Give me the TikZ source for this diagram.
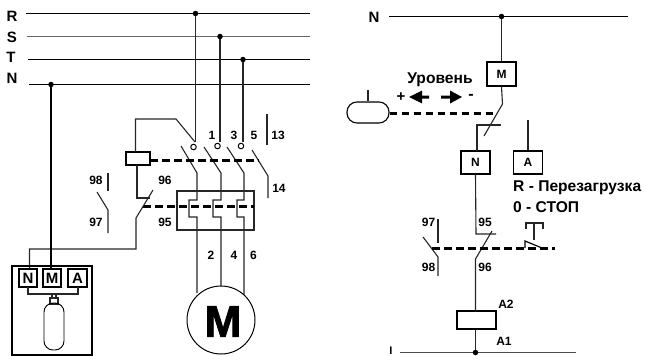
\documentclass[tikz,border=0pt]{standalone}
\usepackage{fontspec}
\setmainfont{Liberation Sans}
\newfontfamily\heavyfont[FakeBold=2]{Liberation Sans Bold}
\usetikzlibrary{arrows.meta}
\tikzset{
  wire/.style={line width=1.1pt,black!85},
  bus/.style={line width=1.1pt,black},
  mech/.style={line width=2.1pt,black,dash pattern=on 7.5pt off 4.5pt},
  box/.style={draw=black,line width=1.2pt,fill=white,inner sep=0pt},
  term/.style={box,font=\fontsize{15}{15}\selectfont\bfseries},
  rterm/.style={box,font=\fontsize{12}{12}\selectfont\bfseries},
  lab/.style={inner sep=0pt,font=\fontsize{12}{12}\selectfont\bfseries},
  biglab/.style={inner sep=0pt,font=\fontsize{15}{15}\selectfont\bfseries},
  textlab/.style={inner sep=0pt,font=\fontsize{15.6}{15.6}\selectfont\bfseries},
  junction/.style={circle,fill=black,inner sep=0pt,minimum size=5.5pt},
  open/.style={circle,draw=black,line width=1pt,fill=white,inner sep=0pt,minimum size=5.5pt}
}
\begin{document}
\begin{tikzpicture}[x=1pt,y=-1pt]
\useasboundingbox (0,0) rectangle (646,356);
% bus labels and end points
\node[biglab] (lR) at (12,16.5) {R};
\node[biglab] (lS) at (12,37) {S};
\node[biglab] (lT) at (11,57) {T};
\node[biglab] (lN) at (12,78) {N};
\coordinate (Ra) at (26,13.5); \coordinate (Rb) at (310,13.5);
\coordinate (Sa) at (27,36.5); \coordinate (Sb) at (310,36.5);
\coordinate (Ta) at (28,59.5); \coordinate (Tb) at (310,59.5);
\coordinate (Na) at (29,84.5); \coordinate (Nb) at (310,84.5);
\draw[bus] (Ra)--(Rb); \draw[bus,black!60] (Sa)--(Sb); \draw[bus] (Ta)--(Tb); \draw[bus] (Na)--(Nb);
\node[junction] (dR) at (195.5,13.5) {};
\node[junction] (dS) at (220,36.5) {};
\node[junction] (dT) at (243,59.5) {};
\node[junction] (dN) at (51,84.5) {};
% terminal circles
\draw[wire] (dR)--(195.5,142);
\draw[wire] (dS)--(220,142);
\draw[wire] (dT)--(243,142);
\node[open] (c1) at (193.5,147) {};
\node[open] (c2) at (217.5,146) {};
\node[open] (c3) at (241,146) {};
% coil
\node[box,minimum width=24pt,minimum height=13pt] (coil) at (138,158.5) {};
\coordinate (mA) at (150,160.5); \coordinate (mB) at (259,160.5);
\coordinate (mC) at (143,206.5); \coordinate (mD) at (254,206.5);
\draw[wire] (135.5,152)--(135.5,119)--(176,119)--(195,142);
% contacts
\draw[wire] (181,146)--(197,173)--(197,200)--(189,200)--(189,217)--(197,217)--(197,293);
\draw[wire] (204,147)--(221,173)--(221,200)--(213,200)--(213,217)--(221,217)--(221,286);
\draw[wire] (227,147)--(244,173)--(244,200)--(237,200)--(237,217)--(244,217)--(244,295);
\draw[wire] (252,150)--(268,176)--(268,198);
\draw[wire] (267,114)--(267,145);
% thermal box
\draw[wire] (177,191) rectangle (254,230);
% dashed links
\draw[mech] (mA)--(mB);
\draw[mech] (mC)--(mD);
% overload contact and wiring
\draw[wire] (137,165)--(137,198)--(150,198);
\draw[wire] (153,190)--(136,218)--(136,249)--(29.5,249)--(29.5,269);
\draw[wire] (108,173)--(108,191);
\draw[wire] (97,192)--(108,210)--(108,233);
% labels
\node[lab] (t1) at (212,135) {1};
\node[lab] (t3) at (234,135) {3};
\node[lab] (t5) at (254,135) {5};
\node[lab] (t13) at (278,135) {13};
\node[lab] (t14) at (279,188) {14};
\node[lab] (t98) at (96,180) {98};
\node[lab] (t97) at (96,222) {97};
\node[lab] (t96) at (165,180) {96};
\node[lab] (t95) at (165,222) {95};
\node[lab] (t2) at (211,255) {2};
\node[lab] (t4) at (234,255) {4};
\node[lab] (t6) at (253.5,255) {6};
% motor
\node[draw=black,line width=1pt,circle,fill=white,minimum size=68pt,inner sep=0pt] (motor) at (221,320) {};
\node[inner sep=0pt,font=\fontsize{44}{44}\heavyfont] (motorM) at (223,321.5) {M};
% level unit
\draw[line width=1.2pt] (12,266) rectangle (92,355);
\draw[line width=1.1pt] (dN)--(51,269);
\node[term,minimum width=18pt,minimum height=18pt] (bN) at (28,278) {N};
\node[term,minimum width=18pt,minimum height=18pt] (bM) at (52,278) {M};
\node[term,minimum width=19pt,minimum height=18pt] (bA) at (77.5,278) {A};
\draw[wire] (28,287)--(28,294)--(78,294)--(78,287);
\draw[wire] (52,294)--(52,298) (56,294)--(56,298);
\draw[wire] (50,298) rectangle (58,304);
\draw[line width=0.9pt,rounded corners=9pt] (44,350) -- (44,303) -- (64,303) -- (64,350) -- cycle;
% right diagram
\node[biglab] (rN) at (374,17) {N};
\coordinate (rNa) at (389,16.5); \coordinate (rNb) at (628,16.5);
\draw[bus] (rNa)--(rNb);
\node[junction] (rd) at (501.5,16.5) {};
\node[rterm,minimum width=29pt,minimum height=24pt] (rM) at (501.5,74) {M};
\node[rterm,minimum width=29pt,minimum height=23pt] (rNb2) at (475.5,162.5) {N};
\node[rterm,minimum width=29pt,minimum height=23pt] (rA) at (528,162.5) {A};
\draw[wire] (rd)--(rM);
\draw[wire] (rM.south)--(502.5,104)--(484,136);
\draw[wire] (501,125)--(477,125)--(477,151);
\draw[wire] (528,120)--(rA.north);
\node[draw=black,line width=1.1pt,fill=white,rounded corners=10pt,minimum width=42pt,minimum height=21pt,inner sep=0pt] (cap) at (368,112.5) {};
\draw[wire] (368,90)--(cap.north);
\coordinate (lvlEnd) at (497,113.5);
\draw[mech] (cap.east|-lvlEnd)--(lvlEnd);
\node[textlab] (lev) at (440,80) {Уровень};
\node[inner sep=0pt,font=\fontsize{15}{15}\selectfont\bfseries] (pl) at (401,97) {+};
\node[inner sep=0pt,font=\fontsize{16}{16}\selectfont\bfseries] (mi) at (471,97) {-};
\fill (409,97)--(422,90.5)--(422,95.5)--(429,95.5)--(429,98.5)--(422,98.5)--(422,103.5)--cycle;
\fill (462,97)--(450,90.5)--(450,95.5)--(441,95.5)--(441,98.5)--(450,98.5)--(450,103.5)--cycle;
\node[textlab,anchor=west] (rr) at (513,188) {R - Перезагрузка};
\node[textlab,anchor=west] (st) at (513,207) {0 - СТОП};
% lower right
\draw[wire] (rNb2.south)--(476,234)--(496,234);
\draw[wire] (492,231)--(475.5,259)--(475.5,311);
\draw[wire] (438,219)--(438,243);
\draw[wire] (423,237)--(438,257)--(438,276);
\draw[mech] (432,248.5)--(555,248.5);
\draw[wire] (526,229)--(526,223)--(543,223)--(543,229);
\draw[wire] (534,223)--(534,240);
\draw[line width=1.2pt] (525,248)--(525,241)--(542,248);
\node[box,minimum width=39pt,minimum height=18pt] (rc) at (476.5,320) {};
\coordinate (La) at (400,352.5); \coordinate (Lb) at (576,352.5);
\draw[bus,black!70] (La)--(Lb);
\node[junction] (rb) at (475.5,352.5) {};
\draw[wire] (rc.south-|rb)--(rb);
\node[lab] (a2) at (506,304) {A2};
\node[lab] (a1) at (504,341) {A1};
\node[lab] (r95) at (485,222) {95};
\node[lab] (r96) at (485,267) {96};
\node[lab] (r97) at (428.5,222) {97};
\node[lab] (r98) at (428.5,267) {98};
\node[inner sep=0pt,anchor=south,font=\fontsize{11}{11}\selectfont\bfseries] (li) at (391,355) {I};
\end{tikzpicture}
\end{document}
